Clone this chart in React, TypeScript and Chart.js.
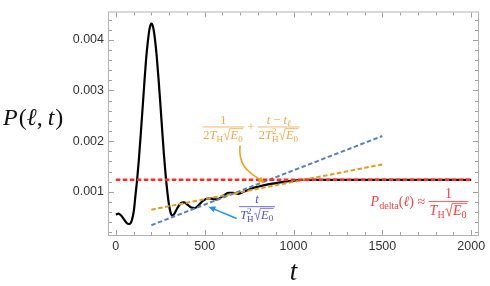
import React, { useEffect, useRef } from "react";
import { Chart, registerables } from "chart.js";
Chart.register(...registerables);

// ---- data ----
const T_CURVE = [0, 15, 30, 45, 60, 73, 85, 95, 102, 110, 120, 130, 140, 150, 160, 170, 180, 190, 200, 210, 220, 230, 240, 250, 260, 270, 280, 290, 300, 309, 318, 330, 345, 365, 385, 405, 425, 445, 465, 490, 520, 545, 568, 600, 635, 660, 690, 720, 760, 800, 850, 900, 950, 1000, 1050, 1100, 1200, 1400, 1600, 1800, 2000];
const P_CURVE = [0.00055, 0.00057, 0.00053, 0.00046, 0.00039, 0.000364, 0.00039, 0.0005, 0.00064, 0.00091, 0.00124, 0.00165, 0.00212, 0.00262, 0.00312, 0.0036, 0.00396, 0.00422, 0.00432, 0.00425, 0.00402, 0.00368, 0.00325, 0.00277, 0.00226, 0.00177, 0.00135, 0.001, 0.00073, 0.00058, 0.00053, 0.00057, 0.00067, 0.00077, 0.00079, 0.00074, 0.00069, 0.00068, 0.00073, 0.00082, 0.00087, 0.00086, 0.00085, 0.00091, 0.00098, 0.00098, 0.00096, 0.001, 0.00106, 0.0011, 0.00114, 0.00117, 0.0012, 0.00122, 0.001233, 0.001235, 0.001235, 0.001235, 0.001235, 0.001235, 0.001235];
const T_ORANGE = [200, 1500];
const P_ORANGE = [0.000647, 0.00154];
const T_BLUE = [200, 1500];
const P_BLUE = [0.00034, 0.0021];
const T_RED = [0, 2000];
const P_RED = [0.001235, 0.001235];

const X_MIN = -44, X_MAX = 2044;
const Y_MIN = 0.000127, Y_MAX = 0.0045586;
const X_TICKS = [0, 500, 1000, 1500, 2000];
const Y_TICKS = [0.001, 0.002, 0.003, 0.004];

// annotation anchors (data coordinates)
const ORANGE_LABEL = [761, 0.002279];
const ORANGE_ARROW_FROM = [699, 0.001913];
const ORANGE_ARROW_TO = [840, 0.001173];
const BLUE_LABEL = [795, 0.000705];
const BLUE_ARROW_FROM = [680, 0.000474];
const BLUE_ARROW_TO = [521, 0.000705];
const RED_LABEL = [1434, 0.000724];

const SERIF = '"Liberation Serif", "DejaVu Serif", serif';
const SANS = '"Liberation Sans", Arial, sans-serif';

type Run = { t: string; it?: boolean; sc?: number; dy?: number; gap?: number };
type Node = Run | { sqrt: Node[] } | { sup: Run; sub: Run };

function setFont(ctx: CanvasRenderingContext2D, size: number, it?: boolean) {
  ctx.font = `${it ? "italic " : ""}${size}px ${SERIF}`;
}
function nodeW(ctx: CanvasRenderingContext2D, n: Node, size: number): number {
  if ("sqrt" in n) return size * 0.6 + seqW(ctx, n.sqrt, size) + size * 0.06;
  if ("sup" in n) return Math.max(nodeW(ctx, n.sup, size), nodeW(ctx, n.sub, size));
  setFont(ctx, size * (n.sc ?? 1), n.it);
  return ctx.measureText(n.t).width + (n.gap ?? 0);
}
function seqW(ctx: CanvasRenderingContext2D, seq: Node[], size: number): number {
  return seq.reduce((s, n) => s + nodeW(ctx, n, size), 0);
}
function drawSeq(ctx: CanvasRenderingContext2D, seq: Node[], x: number, y: number, size: number): number {
  for (const n of seq) {
    if ("sqrt" in n) {
      const w = seqW(ctx, n.sqrt, size);
      const r = size * 0.6;
      ctx.beginPath();
      ctx.moveTo(x + size * 0.05, y - size * 0.36);
      ctx.lineTo(x + size * 0.17, y - size * 0.44);
      ctx.lineTo(x + size * 0.32, y + size * 0.1);
      ctx.lineTo(x + size * 0.54, y - size * 0.82);
      ctx.lineTo(x + r + w + size * 0.04, y - size * 0.82);
      ctx.lineWidth = Math.max(0.7, size * 0.06);
      ctx.stroke();
      drawSeq(ctx, n.sqrt, x + r, y, size);
      x += r + w + size * 0.06;
    } else if ("sup" in n) {
      const w = nodeW(ctx, n, size);
      drawSeq(ctx, [n.sup], x, y, size);
      drawSeq(ctx, [n.sub], x, y, size);
      x += w;
    } else {
      setFont(ctx, size * (n.sc ?? 1), n.it);
      ctx.fillText(n.t, x, y + (n.dy ?? 0) * size);
      x += ctx.measureText(n.t).width + (n.gap ?? 0);
    }
  }
  return x;
}
function fracW(ctx: CanvasRenderingContext2D, num: Node[], den: Node[], size: number) {
  return Math.max(seqW(ctx, num, size), seqW(ctx, den, size)) + 2;
}
function drawFrac(ctx: CanvasRenderingContext2D, left: number, barY: number, num: Node[], den: Node[], size: number) {
  const wn = seqW(ctx, num, size), wd = seqW(ctx, den, size);
  const w = Math.max(wn, wd) + 2;
  ctx.fillRect(left, barY - 0.4, w, 0.8);
  drawSeq(ctx, num, left + (w - wn) / 2, barY - size * 0.26, size);
  drawSeq(ctx, den, left + (w - wd) / 2, barY + size * 0.95, size);
  return w;
}
function arrowHead(ctx: CanvasRenderingContext2D, tx: number, ty: number, fx: number, fy: number, len: number, half: number) {
  const a = Math.atan2(ty - fy, tx - fx);
  const bx = tx - len * Math.cos(a), by = ty - len * Math.sin(a);
  ctx.beginPath();
  ctx.moveTo(tx, ty);
  ctx.lineTo(bx + half * Math.sin(a), by - half * Math.cos(a));
  ctx.lineTo(bx - half * Math.sin(a), by + half * Math.cos(a));
  ctx.closePath();
  ctx.fill();
}

const SUB = 0.72;
const TH: Node[] = [{ t: "T", it: true }, { t: "H", sc: SUB, dy: 0.25 }];
const TH2: Node[] = [{ t: "T", it: true }, { sup: { t: "2", sc: SUB, dy: -0.38 }, sub: { t: "H", sc: SUB, dy: 0.27 } }];
const SQE: Node = { sqrt: [{ t: "E", it: true }, { t: "0", sc: SUB, dy: 0.22 }] };

const framePlugin = {
  id: "framePlugin",
  afterDraw(chart: any) {
    const { ctx, chartArea: a, scales } = chart;
    const xs = scales.x, ys = scales.y;
    ctx.save();
    // frame
    ctx.strokeStyle = "#b4b4b4";
    ctx.lineWidth = 1;
    ctx.strokeRect(a.left + 0.5, a.top + 0.5, a.right - a.left - 1, a.bottom - a.top - 1);
    ctx.strokeStyle = "#a0a0a0";
    ctx.beginPath();
    for (let k = 0; k <= 20; k++) {
      const v = k * 100;
      const px = Math.round(xs.getPixelForValue(v)) + 0.5;
      const len = k % 5 === 0 ? 5 : 3;
      ctx.moveTo(px, a.bottom - 1); ctx.lineTo(px, a.bottom - 1 - len);
      ctx.moveTo(px, a.top + 1); ctx.lineTo(px, a.top + 1 + len);
    }
    for (let k = 1; k <= 22; k++) {
      const v = k * 0.0002;
      if (v > ys.max || v < ys.min) continue;
      const py = Math.round(ys.getPixelForValue(v)) + 0.5;
      const len = k % 5 === 0 ? 5 : 3;
      ctx.moveTo(a.left + 1, py); ctx.lineTo(a.left + 1 + len, py);
      ctx.moveTo(a.right - 1, py); ctx.lineTo(a.right - 1 - len, py);
    }
    ctx.stroke();

    ctx.textAlign = "left";
    ctx.textBaseline = "alphabetic";

    // axis titles
    ctx.fillStyle = "#111";
    ctx.strokeStyle = "#111";
    const ytitle: Node[] = [
      { t: "P", it: true, gap: 1 }, { t: "(" }, { t: "\u2113", it: true }, { t: ",", gap: 5 }, { t: "t", it: true, gap: 1 }, { t: ")" },
    ];
    drawSeq(ctx, ytitle, 3, (a.top + a.bottom) / 2 + 1, 24);
    const xt: Node[] = [{ t: "t", it: true }];
    const xtw = seqW(ctx, xt, 27);
    drawSeq(ctx, xt, (a.left + a.right) / 2 - xtw / 2, 280, 27);

    // orange formula
    const oc = "#f4a548";
    ctx.fillStyle = oc; ctx.strokeStyle = oc;
    const os = 12.5;
    const n1: Node[] = [{ t: "1" }];
    const d1: Node[] = [{ t: "2" }, ...TH, SQE];
    const n2: Node[] = [{ t: "t", it: true }, { t: " \u2212 " }, { t: "t", it: true }, { t: "\u2113", it: true, sc: SUB, dy: 0.22 }];
    const d2: Node[] = [{ t: "2" }, ...TH2, SQE];
    setFont(ctx, os, false);
    const plusW = ctx.measureText(" + ").width;
    const wTot = fracW(ctx, n1, d1, os) + plusW + fracW(ctx, n2, d2, os);
    let ox = xs.getPixelForValue(ORANGE_LABEL[0]) - wTot / 2;
    const oy = ys.getPixelForValue(ORANGE_LABEL[1]);
    ox += drawFrac(ctx, ox, oy, n1, d1, os);
    setFont(ctx, os, false);
    ctx.fillText(" + ", ox, oy + os * 0.3);
    ox += plusW;
    drawFrac(ctx, ox, oy, n2, d2, os);

    // orange arrow
    const sx = xs.getPixelForValue(ORANGE_ARROW_FROM[0]), sy = ys.getPixelForValue(ORANGE_ARROW_FROM[1]);
    const ex = xs.getPixelForValue(ORANGE_ARROW_TO[0]), ey = ys.getPixelForValue(ORANGE_ARROW_TO[1]);
    const c2x = sx + 10, c2y = ey - 10;
    ctx.strokeStyle = "#f5a01e"; ctx.fillStyle = "#f5a01e";
    ctx.lineWidth = 1.6;
    ctx.beginPath();
    ctx.moveTo(sx, sy);
    ctx.bezierCurveTo(sx - 2, sy + 22, c2x, c2y, ex - 4, ey - 2.7);
    ctx.stroke();
    arrowHead(ctx, ex, ey, c2x, c2y, 7, 3.2);

    // blue formula
    const bc = "#4d4de6";
    ctx.fillStyle = bc; ctx.strokeStyle = bc;
    const bs = 12.5;
    const bn: Node[] = [{ t: "t", it: true }];
    const bd: Node[] = [...TH2, SQE];
    const bw = fracW(ctx, bn, bd, bs);
    drawFrac(ctx, xs.getPixelForValue(BLUE_LABEL[0]) - bw / 2, ys.getPixelForValue(BLUE_LABEL[1]), bn, bd, bs);

    // blue arrow
    const bsx = xs.getPixelForValue(BLUE_ARROW_FROM[0]), bsy = ys.getPixelForValue(BLUE_ARROW_FROM[1]);
    const bex = xs.getPixelForValue(BLUE_ARROW_TO[0]), bey = ys.getPixelForValue(BLUE_ARROW_TO[1]);
    ctx.strokeStyle = "#2291f2"; ctx.fillStyle = "#2291f2";
    ctx.lineWidth = 1.6;
    const ang = Math.atan2(bey - bsy, bex - bsx);
    ctx.beginPath();
    ctx.moveTo(bsx, bsy);
    ctx.lineTo(bex - 5 * Math.cos(ang), bey - 5 * Math.sin(ang));
    ctx.stroke();
    arrowHead(ctx, bex, bey, bsx, bsy, 7, 3.2);

    // red formula
    const rc = "#ff3d3d";
    ctx.fillStyle = rc; ctx.strokeStyle = rc;
    const rs = 14;
    const rx = xs.getPixelForValue(RED_LABEL[0]), ry = ys.getPixelForValue(RED_LABEL[1]);
    const lhs: Node[] = [
      { t: "P", it: true }, { t: "delta", sc: SUB, dy: 0.22 }, { t: "(" }, { t: "\u2113", it: true }, { t: ")" }, { t: " \u2248 " },
    ];
    const after = drawSeq(ctx, lhs, rx, ry, rs);
    drawFrac(ctx, after, ry - rs * 0.3, [{ t: "1" }], [...TH, SQE], rs);

    ctx.restore();
  },
};

export default function App() {
  const ref = useRef<HTMLCanvasElement | null>(null);
  useEffect(() => {
    if (!ref.current) return;
    const pts = (ts: number[], ps: number[]) => ts.map((t, i) => ({ x: t, y: ps[i] }));
    const chart = new Chart(ref.current, {
      type: "line",
      data: {
        datasets: [
          { data: pts(T_RED, P_RED), borderColor: "#ff2a2a", borderWidth: 2.5, borderDash: [4.5, 2.5], pointRadius: 0, order: 1 },
          { data: pts(T_ORANGE, P_ORANGE), borderColor: "#e19c24", borderWidth: 2, borderDash: [4.5, 2.5], pointRadius: 0, order: 2 },
          { data: pts(T_BLUE, P_BLUE), borderColor: "#5e81b5", borderWidth: 2, borderDash: [4.5, 2.5], pointRadius: 0, order: 3 },
          { data: pts(T_CURVE, P_CURVE), borderColor: "#000", borderWidth: 2.2, pointRadius: 0, cubicInterpolationMode: "monotone", order: 4 },
        ] as any,
      },
      options: {
        animation: false,
        responsive: false,
        maintainAspectRatio: false,
        layout: { padding: { top: 6, right: 11, left: 0, bottom: 0 } },
        plugins: { legend: { display: false }, tooltip: { enabled: false } },
        scales: {
          x: {
            type: "linear",
            min: X_MIN,
            max: X_MAX,
            grid: { display: false, drawTicks: false },
            border: { display: false },
            ticks: { font: { family: SANS, size: 12.5 }, color: "#333", padding: 3, maxRotation: 0, autoSkip: false, callback: (v: any) => String(v) },
            afterBuildTicks: (s: any) => { s.ticks = X_TICKS.map((v) => ({ value: v })); },
            afterFit: (s: any) => { s.height = 50; },
          },
          y: {
            type: "linear",
            min: Y_MIN,
            max: Y_MAX,
            grid: { display: false, drawTicks: false },
            border: { display: false },
            ticks: { font: { family: SANS, size: 12.5 }, color: "#333", padding: 4, autoSkip: false, callback: (v: any) => Number(v).toFixed(3) },
            afterBuildTicks: (s: any) => { s.ticks = Y_TICKS.map((v) => ({ value: v })); },
            afterFit: (s: any) => { s.width = 108; },
          },
        },
      } as any,
      plugins: [framePlugin],
    });
    return () => chart.destroy();
  }, []);
  return (
    <div style={{ position: "absolute", left: 0, top: 0, width: 490, height: 286, background: "#fff" }}>
      <canvas ref={ref} width={490} height={286} style={{ display: "block", width: 490, height: 286 }} />
    </div>
  );
}
